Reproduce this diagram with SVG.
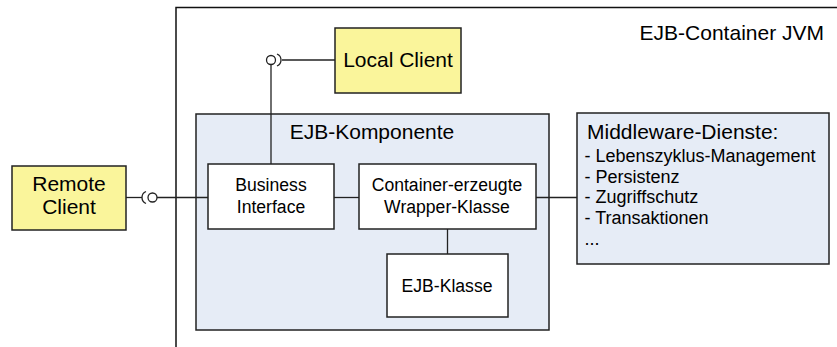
<svg xmlns="http://www.w3.org/2000/svg" width="837" height="347" viewBox="0 0 837 347">
  <style>
    text { font-family: "Liberation Sans", Arial, sans-serif; fill: #000; }
    .client { fill: #FAF59B; stroke: #222; stroke-width: 1.5; }
    .part { fill: #FFFFFF; stroke: #222; stroke-width: 1.5; }
    .comp { fill: #E6ECF6; stroke: #222; stroke-width: 1.5; }
    .wire { fill: none; stroke: #222; stroke-width: 1.3; }
    .big { font-size: 21px; }
    .small { font-size: 17.6px; }
    .list { font-size: 18px; }
  </style>
  <rect width="837" height="347" fill="#FFFFFF"/>

  <!-- JVM container (open to the right and bottom) -->
  <g id="container-jvm">
    <path d="M176 347 V7.5 H837" fill="none" stroke="#111" stroke-width="1.5"/>
    <text class="big" x="824" y="40" text-anchor="end">EJB-Container JVM</text>
  </g>

  <g id="ejb-komponente">
    <rect class="comp" x="196" y="114" width="353" height="216"/>
    <text class="big" x="372" y="139" text-anchor="middle">EJB-Komponente</text>
  </g>

  <g id="remote-client">
    <rect class="client" x="12" y="166" width="114" height="64"/>
    <text class="big" x="69" y="191" text-anchor="middle">Remote</text>
    <text class="big" x="69" y="214" text-anchor="middle">Client</text>
  </g>

  <g id="local-client">
    <rect class="client" x="335" y="28" width="126" height="65"/>
    <text class="big" x="398" y="67" text-anchor="middle">Local Client</text>
  </g>

  <g id="business-interface">
    <rect class="part" x="208" y="164" width="126" height="65"/>
    <text class="small" x="271" y="191" text-anchor="middle">Business</text>
    <text class="small" x="271" y="213" text-anchor="middle">Interface</text>
  </g>

  <g id="wrapper-klasse">
    <rect class="part" x="359" y="164" width="177" height="65"/>
    <text class="small" x="447" y="191" text-anchor="middle">Container-erzeugte</text>
    <text class="small" x="447" y="213" text-anchor="middle">Wrapper-Klasse</text>
  </g>

  <g id="ejb-klasse">
    <rect class="part" x="387" y="254" width="121" height="63"/>
    <text class="small" x="447" y="292" text-anchor="middle">EJB-Klasse</text>
  </g>

  <g id="middleware-dienste">
    <rect class="comp" x="577" y="113" width="252" height="151"/>
    <text class="big" x="587" y="138.5">Middleware-Dienste:</text>
    <text class="list" x="584.5" y="162">- Lebenszyklus-Management</text>
    <text class="list" x="584.5" y="182.5">- Persistenz</text>
    <text class="list" x="584.5" y="203">- Zugriffschutz</text>
    <text class="list" x="584.5" y="223.5">- Transaktionen</text>
    <text class="list" x="584.5" y="245">...</text>
  </g>

  <g id="connectors">
    <!-- remote interface: socket + lollipop -->
    <path class="wire" d="M126 197.5 H142"/>
    <path class="wire" d="M146 191.5 A6.5 6.5 0 0 0 146 203.5"/>
    <circle class="wire" cx="152.5" cy="197.5" r="4.5"/>
    <path class="wire" d="M157 197.5 H208"/>
    <!-- local interface: lollipop + socket -->
    <circle class="wire" cx="271" cy="60" r="4.5"/>
    <path class="wire" d="M277 54 A6.5 6.5 0 0 1 277 66"/>
    <path class="wire" d="M282 60 H335"/>
    <path class="wire" d="M271 64.5 V164"/>
    <!-- internal links -->
    <path class="wire" d="M334 197.5 H359"/>
    <path class="wire" d="M536 197.5 H577"/>
    <path class="wire" d="M447.5 229 V254"/>
  </g>
</svg>
